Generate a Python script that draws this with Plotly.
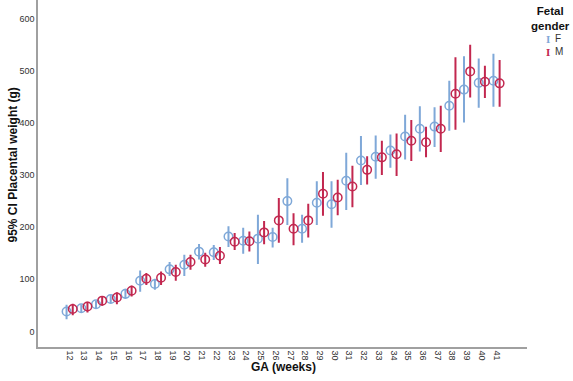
import plotly.graph_objects as go

weeks = list(range(12, 42))

f_mean = [38, 44.5, 52, 62, 72, 97, 91, 119, 128, 153, 152, 182, 174, 178, 181, 250, 197, 247, 244, 289,
          328, 335, 347, 374, 389, 393, 433, 464, 477, 481]
f_hi = [49, 49, 57, 68, 80, 115, 99, 131, 145, 166, 164, 200, 197, 222, 197, 292, 222, 286, 286, 341,
        373, 374, 376, 414, 430, 428, 479, 526, 522, 531]
f_lo = [25, 38, 46, 56, 64, 78, 82, 108, 108, 140, 139, 164, 151, 131, 163, 206, 172, 206, 201, 235,
        283, 295, 316, 332, 347, 356, 387, 403, 431, 433]

m_mean = [43, 47.6, 59, 65, 78, 101, 103, 114, 133, 138, 145, 172, 173, 190, 213, 197, 213, 264, 257, 278,
          310, 334, 340, 366, 363, 389, 456, 499, 479, 476]
m_hi = [51, 55, 66, 73, 86, 110, 113, 126, 145, 149, 160, 187, 190, 210, 254, 225, 243, 304, 289, 316,
        334, 364, 378, 404, 391, 431, 524, 548, 508, 519]
m_lo = [33, 38, 51, 54, 69, 91, 91, 99, 120, 126, 131, 158, 155, 169, 172, 167, 182, 224, 225, 240,
        284, 302, 300, 329, 336, 346, 389, 451, 450, 433]

legend_title = "Fetal<br>gender"
legend_labels = ["F", "M"]

F_COLOR = "#7fa8d8"
M_COLOR = "#c2274f"
OFF = 0.21

# plot-area geometry (pixels) used to place the legend/titles
L, R, T, B = 38, 46, 0, 34
W, H = 573, 381
PW, PH = W - L - R, H - T - B


def px2x(px):
    return (px - L) / PW


def px2y(py):
    return (H - B - py) / PH


fig = go.Figure()
for name, mean, hi, lo, col, sgn in [("F", f_mean, f_hi, f_lo, F_COLOR, -1),
                                     ("M", m_mean, m_hi, m_lo, M_COLOR, 1)]:
    xs = [w + sgn * OFF for w in weeks]
    fig.add_trace(go.Scatter(
        x=xs, y=mean, mode="markers", name=name, showlegend=False,
        marker=dict(symbol="circle-open", size=8.5, color=col, line=dict(width=1.5, color=col)),
        error_y=dict(type="data", symmetric=False,
                     array=[h - m for h, m in zip(hi, mean)],
                     arrayminus=[m - l for m, l in zip(mean, lo)],
                     color=col, thickness=2, width=1),
        hoverinfo="skip",
    ))

annotations = [
    dict(text="<b>GA (weeks)</b>", xref="paper", yref="paper", x=px2x(283.5), y=px2y(366.5),
         xanchor="center", yanchor="middle", showarrow=False, font=dict(size=12, color="#111111")),
    dict(text="<b>95% CI Placental weight (g)</b>", xref="paper", yref="paper", x=px2x(12.5), y=px2y(165),
         xanchor="center", yanchor="middle", textangle=-90, showarrow=False,
         font=dict(size=12, color="#111111")),
    dict(text="<b>%s</b>" % legend_title, xref="paper", yref="paper", x=px2x(550), y=px2y(18),
         xanchor="center", yanchor="middle", showarrow=False, font=dict(size=11.5, color="#111111")),
]
for i, (lab, col) in enumerate(zip(legend_labels, [F_COLOR, M_COLOR])):
    yy = px2y(39 + 12.5 * i)
    annotations.append(dict(text="<b>I</b>", xref="paper", yref="paper", x=px2x(548), y=yy,
                            xanchor="center", yanchor="middle", showarrow=False,
                            font=dict(size=11, color=col, family="Liberation Serif, DejaVu Serif, serif")))
    annotations.append(dict(text=lab, xref="paper", yref="paper", x=px2x(553), y=yy,
                            xanchor="left", yanchor="middle", showarrow=False,
                            font=dict(size=10, color="#333333")))

fig.update_layout(
    width=W, height=H,
    margin=dict(l=L, r=R, t=T, b=B),
    paper_bgcolor="white", plot_bgcolor="white",
    font=dict(family="Liberation Sans, Arial, sans-serif", color="#333333", size=9),
    showlegend=False,
    xaxis=dict(
        range=[9.85, 43.07], tickmode="array", tickvals=weeks, ticktext=[str(w) for w in weeks],
        tickangle=90, showgrid=False, zeroline=False, showline=True, linecolor="#a0a0a0", linewidth=1.5,
        ticks="", tickfont=dict(size=9, color="#333333"), automargin=False,
    ),
    yaxis=dict(
        range=[-30, 636], tickvals=[0, 100, 200, 300, 400, 500, 600],
        showgrid=False, zeroline=False, showline=True, linecolor="#a0a0a0", linewidth=1.5,
        ticks="", tickfont=dict(size=9, color="#333333"), automargin=False,
    ),
    annotations=annotations,
)

fig.write_html("out.html", post_script="document.body.style.margin='0';",
               config={"displayModeBar": False})
